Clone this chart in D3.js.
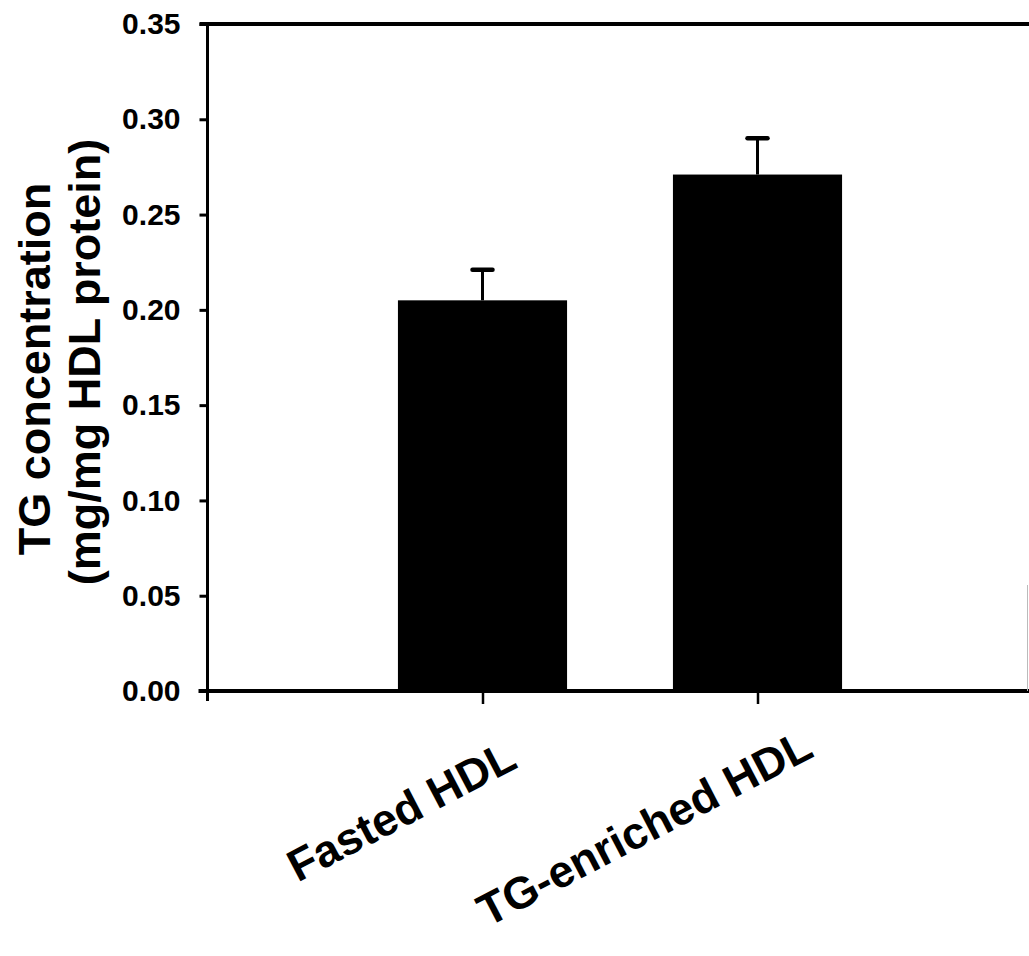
<!DOCTYPE html>
<html>
<head>
  <style>
    body {
      margin: 0;
      padding: 0;
      background: white;
    }
    svg text {
      font-family: "Liberation Sans", Arial, sans-serif;
      font-weight: bold;
      fill: black;
    }
  </style>
</head>
<body>
  <div id="chart"></div>

  <script src="https://cdnjs.cloudflare.com/ajax/libs/d3/7.8.5/d3.min.js"></script>
  <script>
    // Values
    const groups = ['Fasted HDL', 'TG-enriched HDL'];
    const means = [0.205, 0.271];
    const errors = [0.016, 0.019];
    const yTicks = [0.00, 0.05, 0.10, 0.15, 0.20, 0.25, 0.30, 0.35];
    const yTitle = ['TG concentration', '(mg/mg HDL protein)'];

    const width = 1029;
    const height = 956;

    const svg = d3.select('#chart')
      .append('svg')
      .attr('width', width)
      .attr('height', height);

    // x runs 0..3 with the groups at 1 and 2 (right part is cut off by the page)
    const x = d3.scaleLinear().domain([0, 3]).range([207.5, 1032.5]);
    const y = d3.scaleLinear().domain([0, 0.35]).range([691, 24]);
    const barW = 0.615;

    // bars
    svg.selectAll('.bar')
      .data(means)
      .enter()
      .append('rect')
      .attr('class', 'bar')
      .attr('x', (d, i) => x(i + 1 - barW / 2))
      .attr('width', x(barW) - x(0))
      .attr('y', d => y(d))
      .attr('height', d => y(0) - y(d))
      .attr('fill', '#000');

    // error bars (upper only)
    const err = svg.selectAll('.err')
      .data(means)
      .enter()
      .append('g')
      .attr('class', 'err');

    err.append('line')
      .attr('x1', (d, i) => x(i + 1))
      .attr('x2', (d, i) => x(i + 1))
      .attr('y1', d => y(d))
      .attr('y2', (d, i) => y(d + errors[i]))
      .attr('stroke', '#000')
      .attr('stroke-width', 3);

    err.append('line')
      .attr('x1', (d, i) => x(i + 1) - 10)
      .attr('x2', (d, i) => x(i + 1) + 10)
      .attr('y1', (d, i) => y(d + errors[i]))
      .attr('y2', (d, i) => y(d + errors[i]))
      .attr('stroke', '#000')
      .attr('stroke-width', 4.5)
      .attr('stroke-linecap', 'round');

    // y axis
    const yAxis = svg.append('g')
      .attr('transform', `translate(${x(0)},0)`)
      .call(d3.axisLeft(y)
        .tickValues(yTicks)
        .tickFormat(d3.format('.2f'))
        .tickSize(8)
        .tickPadding(19));
    yAxis.select('.domain').remove();
    yAxis.selectAll('.tick line').attr('stroke', '#000').attr('stroke-width', 3);
    yAxis.selectAll('.tick text')
      .attr('font-size', 30)
      .attr('font-family', '"Liberation Sans", Arial, sans-serif')
      .attr('font-weight', 'bold');

    svg.append('line')
      .attr('x1', x(0)).attr('x2', x(0))
      .attr('y1', y(0.35)).attr('y2', y(0) + 10)
      .attr('stroke', '#000').attr('stroke-width', 3);

    // top frame line and x axis line
    svg.append('line')
      .attr('x1', x(0) - 8).attr('x2', width)
      .attr('y1', y(0.35)).attr('y2', y(0.35))
      .attr('stroke', '#000').attr('stroke-width', 4);

    svg.append('line')
      .attr('x1', x(0) - 9).attr('x2', width)
      .attr('y1', y(0)).attr('y2', y(0))
      .attr('stroke', '#000').attr('stroke-width', 4);

    // faint right frame edge
    svg.append('line')
      .attr('x1', 1027.5).attr('x2', 1027.5)
      .attr('y1', 585).attr('y2', y(0))
      .attr('stroke', '#bbb').attr('stroke-width', 1);

    // x axis ticks and rotated labels
    const xAxis = svg.append('g')
      .attr('transform', `translate(0,${y(0)})`)
      .call(d3.axisBottom(x)
        .tickValues([1, 2])
        .tickFormat((d, i) => groups[i])
        .tickSize(13));
    xAxis.select('.domain').remove();
    xAxis.selectAll('.tick line').attr('stroke', '#000').attr('stroke-width', 2.5);
    xAxis.selectAll('.tick text')
      .attr('font-size', 45)
      .attr('font-family', '"Liberation Sans", Arial, sans-serif')
      .attr('font-weight', 'bold')
      .attr('text-anchor', 'end')
      .attr('dy', null)
      .attr('y', 0)
      .each(function() {
        const len = this.getComputedTextLength();
        d3.select(this)
          .attr('x', 0.2 * len)
          .attr('transform', 'translate(-8,99) rotate(-27.6)');
      });

    // y title, two lines
    svg.selectAll('.ytitle')
      .data(yTitle)
      .enter()
      .append('text')
      .attr('class', 'ytitle')
      .attr('text-anchor', 'middle')
      .attr('font-size', 45)
      .attr('transform', (d, i) => `translate(${50 + i * 50},${369 - i * 7}) rotate(-90)`)
      .text(d => d);
  </script>
</body>
</html>
